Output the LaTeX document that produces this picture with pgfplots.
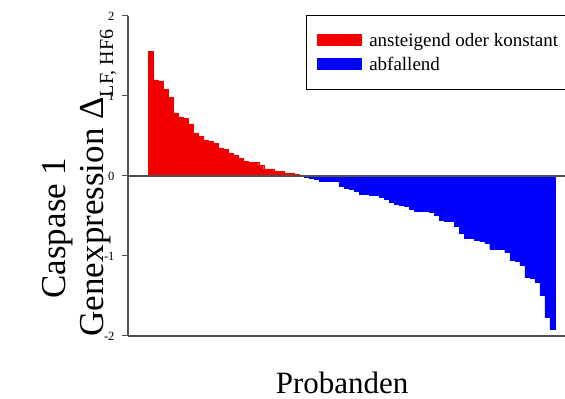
\documentclass[border=0pt]{standalone}
\usepackage{fontspec}
\setmainfont{Liberation Serif}
\usepackage{pgfplots}
\pgfplotsset{compat=1.18}
\definecolor{axgray}{HTML}{505050}
\definecolor{myred}{HTML}{F20000}
\definecolor{myblue}{HTML}{0000FF}
\begin{document}
\begin{tikzpicture}
\begin{axis}[
  scale only axis,
  width=437pt, height=320pt,
  xmin=-3.5, xmax=83.5,
  ymin=-2, ymax=2,
  axis x line=bottom, axis y line=left,
  axis line style={-, axgray, line width=1.2pt},
  xtick=\empty,
  ytick={-2,-1,0,1,2},
  yticklabels={-2,-1,0,1,2},
  tick align=outside,
  major tick length=6pt,
  tick style={axgray, line width=1pt},
  yticklabel style={font=\fontsize{12.5}{14}\selectfont, xshift=-4pt},
  ylabel={Caspase 1\hspace*{90pt}\\Genexpression Δ\raisebox{-0.28em}{\fontsize{20}{20}\selectfont LF, HF6}},
  ylabel style={at={(axis description cs:-0.112,0.478)}, anchor=center, rotate=0, align=center, font=\fontsize{35}{38}\selectfont},
  xlabel={Probanden},
  xlabel style={at={(axis description cs:0.49,-0.145)}, anchor=center, font=\fontsize{31}{34}\selectfont},
  legend style={at={(axis description cs:0.407,1.004)}, anchor=north west, draw=black, line width=0.8pt,
    font=\fontsize{19}{22}\selectfont, inner xsep=11pt, inner ysep=16pt, row sep=5pt},
  legend cell align=left,
  legend image code/.code={\fill[#1, draw=none] (0pt,-6pt) rectangle (45pt,6pt);},
  clip=false,
]
\addplot[ybar, bar width=1, bar shift=0pt, fill=myred, draw=myred, line width=0.2pt] coordinates {
(1,1.56)(2,1.20)(3,1.19)(4,1.08)(5,0.98)(6,0.79)(7,0.74)(8,0.72)(9,0.65)(10,0.53)
(11,0.50)(12,0.45)(13,0.43)(14,0.41)(15,0.35)(16,0.33)(17,0.29)(18,0.26)(19,0.22)(20,0.18)
(21,0.17)(22,0.17)(23,0.13)(24,0.09)(25,0.09)(26,0.06)(27,0.06)(28,0.04)(29,0.04)(30,0.02)
(31,0.01)};
\addlegendentry{\rule{5pt}{0pt}ansteigend oder konstant\rule{25pt}{0pt}}
\addplot[ybar, bar width=1, bar shift=0pt, fill=myblue, draw=myblue, line width=0.2pt] coordinates {
(32,-0.01)(33,-0.03)(34,-0.04)(35,-0.07)(36,-0.07)(37,-0.07)(38,-0.07)(39,-0.13)(40,-0.15)(41,-0.16)
(42,-0.19)(43,-0.23)(44,-0.23)(45,-0.245)(46,-0.245)(47,-0.27)(48,-0.29)(49,-0.33)(50,-0.35)(51,-0.36)
(52,-0.38)(53,-0.42)(54,-0.44)(55,-0.44)(56,-0.44)(57,-0.45)(58,-0.49)(59,-0.55)(60,-0.57)(61,-0.57)
(62,-0.63)(63,-0.72)(64,-0.78)(65,-0.78)(66,-0.80)(67,-0.82)(68,-0.84)(69,-0.91)(70,-0.91)(71,-0.91)
(72,-0.95)(73,-1.05)(74,-1.07)(75,-1.12)(76,-1.27)(77,-1.28)(78,-1.33)(79,-1.49)(80,-1.77)(81,-1.91)};
\addlegendentry{\rule{5pt}{0pt}abfallend}
\addplot[axgray, line width=1.2pt, forget plot] coordinates {(-3.5,0) (83.5,0)};
\coordinate (ll) at (rel axis cs:0,0);
\coordinate (ur) at (rel axis cs:1,1);
\end{axis}
\pgfresetboundingbox
\path[use as bounding box] ([xshift=-128pt,yshift=-63pt]ll) rectangle ([yshift=16pt]ur);
\end{tikzpicture}
\end{document}
